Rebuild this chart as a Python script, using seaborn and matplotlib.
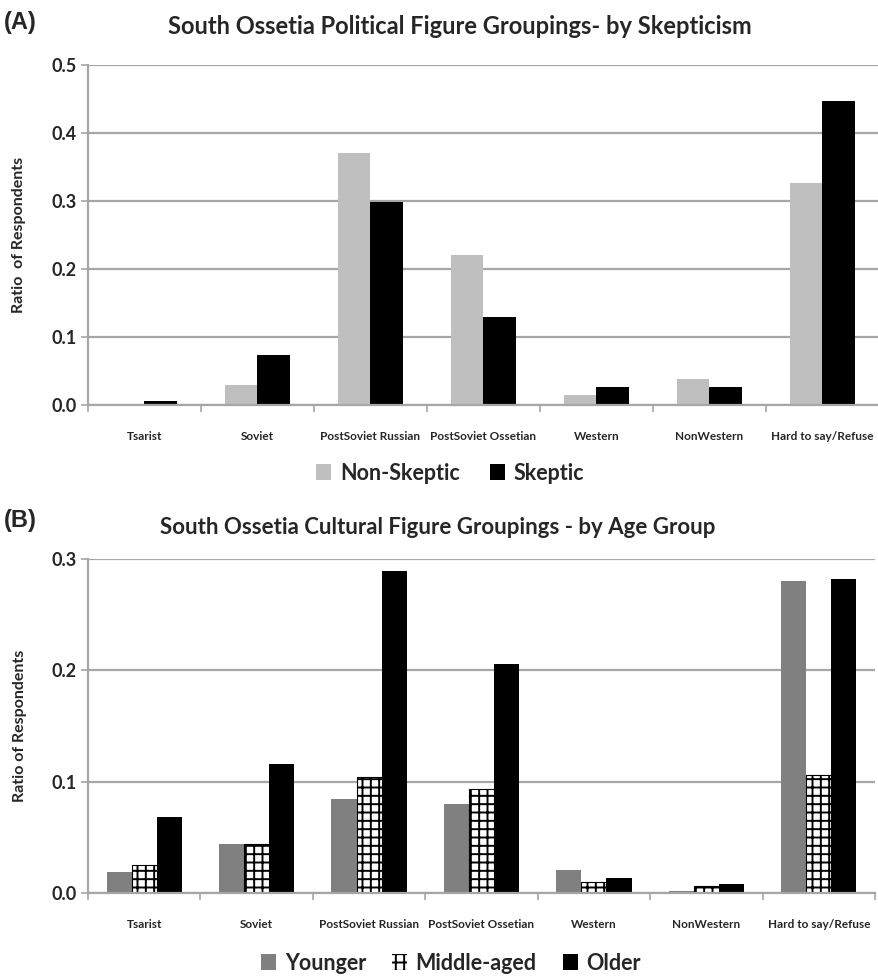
import matplotlib
matplotlib.use('Agg')
import matplotlib.pyplot as plt
import numpy as np
import pandas as pd
import seaborn as sns
from matplotlib.ticker import FormatStrFormatter

categories = ['Tsarist', 'Soviet', 'PostSoviet Russian', 'PostSoviet Ossetian',
              'Western', 'NonWestern', 'Hard to say/Refuse']

# panel A - by skepticism
non_skeptic = [0.002, 0.029, 0.370, 0.220, 0.014, 0.038, 0.326]
skeptic = [0.006, 0.074, 0.298, 0.129, 0.026, 0.026, 0.447]

# panel B - by age group
younger = [0.019, 0.044, 0.084, 0.080, 0.021, 0.0015, 0.280]
middle_aged = [0.025, 0.044, 0.104, 0.093, 0.010, 0.0065, 0.106]
older = [0.068, 0.116, 0.289, 0.206, 0.0135, 0.0085, 0.282]

sns.set_style('white')
plt.rcParams['font.family'] = ['Lato', 'DejaVu Sans']
plt.rcParams['font.weight'] = 'bold'
plt.rcParams['hatch.linewidth'] = 1.4
plt.rcParams['hatch.color'] = 'black'

grid_col = '#a6a6a6'


def long_frame(series, names):
    rows = []
    for name, vals in zip(names, series):
        for cat, v in zip(categories, vals):
            rows.append({'group': cat, 'ratio': v, 'series': name})
    return pd.DataFrame(rows)


def style_axis(ax, ymax, ylabel):
    ax.set_ylim(0, ymax)
    ax.set_xlim(-0.5, 6.5)
    ax.set_yticks(np.arange(0, ymax + 0.001, 0.1))
    ax.yaxis.set_major_formatter(FormatStrFormatter('%.1f'))
    ax.yaxis.grid(True, color=grid_col, linewidth=1.6)
    ax.set_axisbelow(True)
    for s in ['top', 'right']:
        ax.spines[s].set_visible(False)
    for s in ['left', 'bottom']:
        ax.spines[s].set_color(grid_col)
        ax.spines[s].set_linewidth(1.6)
    ax.tick_params(axis='y', left=True, length=5, width=1.2, color=grid_col,
                   labelsize=13, pad=3)
    # category boundaries as major ticks, labels on minor ticks
    ax.set_xticks(np.arange(-0.5, 7, 1.0))
    ax.set_xticklabels([])
    ax.set_xticks(np.arange(7), minor=True)
    ax.set_xticklabels(categories, minor=True, fontsize=8.5, fontweight='bold')
    ax.tick_params(axis='x', which='major', bottom=True, length=5, width=1.2,
                   color=grid_col, direction='out')
    ax.tick_params(axis='x', which='minor', bottom=False, length=0, pad=19)
    for lab in ax.get_yticklabels():
        lab.set_fontweight('bold')
    ax.set_xlabel('')
    ax.set_ylabel(ylabel, fontsize=11.5, fontweight='bold')
    ax.yaxis.set_label_coords(-0.078, 0.5)


fig = plt.figure(figsize=(8.79, 9.77), dpi=100)
W, H = 879, 977
axA = fig.add_axes([88 / W, 1 - 405 / H, 791 / W, 340 / H])
axB = fig.add_axes([88 / W, 1 - 893 / H, 787 / W, 334 / H])

# panel A
dfA = long_frame([non_skeptic, skeptic], ['Non-Skeptic', 'Skeptic'])
sns.barplot(data=dfA, x='group', y='ratio', hue='series', ax=axA,
            palette=['#bfbfbf', '#000000'], saturation=1, width=0.58,
            linewidth=0, errorbar=None)
style_axis(axA, 0.5, 'Ratio  of Respondents')
hA, lA = axA.get_legend_handles_labels()
axA.get_legend().remove()
for h in hA:
    h.set_linewidth(0)
fig.legend(hA, lA, loc='center', bbox_to_anchor=(450 / W, 1 - 473 / H), ncol=2,
           frameon=False, prop={'size': 15.5, 'weight': 'bold'},
           handlelength=0.7, handleheight=0.7, handletextpad=0.4,
           columnspacing=1.4)

# panel B
dfB = long_frame([younger, middle_aged, older], ['Younger', 'Middle-aged', 'Older'])
sns.barplot(data=dfB, x='group', y='ratio', hue='series', ax=axB,
            palette=['#808080', '#ffffff', '#000000'], saturation=1, width=0.67,
            linewidth=0, errorbar=None)
for bar in axB.containers[1]:
    bar.set_hatch('++')
    bar.set_edgecolor('black')
    bar.set_linewidth(0.8)
style_axis(axB, 0.3, 'Ratio of Respondents')
hB, lB = axB.get_legend_handles_labels()
axB.get_legend().remove()
for h in hB:
    h.set_linewidth(0)
hB[1].set_hatch('++')
hB[1].set_edgecolor('black')
fig.legend(hB, lB, loc='center', bbox_to_anchor=(451 / W, 1 - 963 / H), ncol=3,
           frameon=False, prop={'size': 15.5, 'weight': 'bold'},
           handlelength=0.7, handleheight=0.7, handletextpad=0.4,
           columnspacing=1.2)

# titles and panel letters
fig.text(460 / W, 1 - 26 / H, 'South Ossetia Political Figure Groupings- by Skepticism',
         ha='center', va='center', fontsize=17, fontweight='bold')
fig.text(4 / W, 1 - 22 / H, '(A)', ha='left', va='center', fontsize=17,
         fontweight='bold', family='Liberation Sans')
fig.text(438 / W, 1 - 527 / H, 'South Ossetia Cultural Figure Groupings - by Age Group',
         ha='center', va='center', fontsize=16, fontweight='bold')
fig.text(4 / W, 1 - 521 / H, '(B)', ha='left', va='center', fontsize=17,
         fontweight='bold', family='Liberation Sans')

fig.savefig('out.png', dpi=100, facecolor='white')
